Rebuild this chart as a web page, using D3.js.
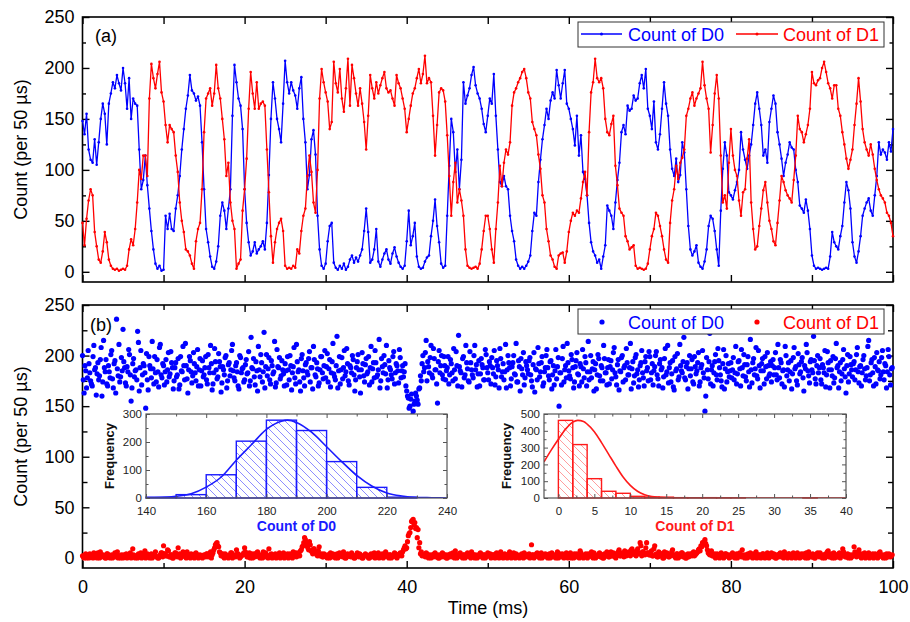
<!DOCTYPE html>
<html>
<head>
<meta charset="utf-8">
<script src="https://cdn.jsdelivr.net/npm/d3@7"></script>
<style>
  body { margin: 0; background: #fff; }
</style>
</head>
<body>
<script>
// ---- panel (a): time traces, one point every 0.25 ms ----
const traceD0 = [
  148,135,155,120,110,107,130,105,127,150,165,155,125,165,175,186,180,193,185,178,
  200,185,160,190,150,170,165,163,120,81,90,114,85,62,40,22,8,3,6,1,
  2,55,42,57,42,40,62,75,94,120,140,160,173,193,178,175,168,172,163,127,
  81,42,29,15,5,3,10,25,55,68,60,42,62,81,153,203,186,170,163,140,
  81,48,29,16,20,29,18,22,25,30,22,48,95,150,186,170,150,140,127,165,
  207,186,175,186,178,173,160,180,191,150,127,81,95,130,139,115,55,22,6,3,
  8,30,45,48,9,4,2,6,3,8,2,5,12,16,9,14,10,16,22,40,
  62,39,9,12,22,42,10,5,12,18,22,12,8,18,24,15,9,5,3,6,
  30,60,26,35,48,15,5,3,4,10,14,16,35,50,71,45,29,8,4,6,
  55,104,150,137,98,120,81,110,186,165,173,180,193,201,183,175,170,160,145,137,
  153,170,165,194,153,120,88,84,94,84,81,55,40,30,12,6,3,5,3,6,
  10,16,40,58,55,88,110,130,144,160,150,168,176,170,198,183,170,185,198,165,
  160,150,140,124,153,114,134,98,91,75,48,29,20,16,9,12,3,15,26,65,
  60,55,42,68,90,107,137,144,135,163,158,160,173,168,170,185,193,180,199,160,
  153,140,167,127,120,135,160,186,165,153,120,101,94,111,88,95,127,117,81,45,
  22,16,20,26,9,5,3,10,22,45,55,52,40,22,6,60,101,127,114,78,
  75,71,80,88,100,137,120,110,101,114,125,144,165,176,160,144,114,120,107,147,
  160,173,165,137,125,111,94,107,115,127,122,120,100,88,65,62,58,71,60,42,
  16,6,3,4,3,2,3,4,3,15,39,29,25,22,35,45,68,88,80,62,
  29,15,9,20,35,55,62,68,72,60,55,75,94,127,115,120,117,110,127,118,140
];
const traceD1 = [
  48,26,52,70,81,75,39,25,12,9,20,39,29,12,6,3,2,3,1,2,
  3,2,6,22,32,26,42,68,100,91,114,114,94,170,204,190,180,194,206,176,
  167,144,127,144,140,137,114,98,68,50,39,22,20,16,8,3,30,42,48,81,
  137,170,175,180,163,175,203,180,170,150,130,94,107,68,50,42,3,8,12,60,
  81,111,160,196,175,160,186,160,165,167,163,120,78,35,9,29,42,48,52,40,
  6,3,4,3,6,4,22,18,40,55,62,94,114,98,68,58,100,170,199,186,
  176,167,140,147,206,185,176,199,170,157,180,209,163,203,190,175,163,180,165,147,
  120,153,193,180,170,186,175,183,190,196,180,176,178,170,163,193,185,180,170,160,
  137,150,163,175,180,190,199,185,194,212,185,190,186,153,114,144,176,180,178,167,
  134,94,55,88,107,68,81,70,55,22,6,4,3,4,5,3,8,22,40,55,
  55,42,22,9,42,68,104,84,107,120,115,127,163,176,180,186,190,196,199,190,
  176,170,147,140,134,115,101,75,68,42,30,16,12,5,3,16,18,19,9,20,
  39,50,58,55,60,58,72,88,98,75,137,176,186,209,190,186,190,180,150,137,
  134,145,153,104,85,62,58,55,35,30,22,24,26,6,3,4,3,2,3,8,
  22,35,42,58,55,45,35,22,12,9,48,70,81,104,91,107,112,120,153,160,
  170,176,163,170,175,180,206,183,170,160,117,144,175,193,170,114,68,75,62,107,
  140,114,100,94,70,55,78,81,111,130,68,42,22,25,45,62,80,88,68,50,
  42,30,26,48,70,94,88,80,75,72,68,90,114,153,140,137,127,135,144,160,
  196,185,183,188,190,200,206,196,185,180,170,183,183,160,153,137,125,111,101,110,
  120,144,165,190,167,140,127,120,114,125,115,101,90,81,75,72,68,58,55,48,35
];
const traceStep = 0.25;

// ---- panel (b): scatter, even bins (0, 0.2, 0.4 ... ms) ----
const scatterD0 = [
  200,163,185,178,192,175,170,210,188,182,176,196,160,215,184,172,190,178,205,168,195,236,180,174,198,
  226,188,170,184,201,155,192,179,186,224,165,205,181,190,148,176,199,187,214,172,183,196,169,211,178,
  190,184,174,203,182,193,167,188,179,197,171,185,209,176,190,163,199,184,180,192,175,206,186,170,195,
  181,199,172,188,210,166,183,194,177,202,189,173,186,198,168,191,180,205,185,175,193,170,200,183,188,
  176,196,183,170,218,187,179,194,165,186,201,174,223,189,180,198,172,190,184,169,206,188,177,195,182,
  192,171,186,200,166,189,178,211,184,174,197,185,170,193,181,204,188,167,196,179,187,173,199,183,190,
  178,202,187,169,194,182,176,219,185,172,198,188,180,207,175,190,183,196,165,188,201,179,186,192,174,
  197,184,171,209,187,178,193,181,216,175,189,200,182,168,195,186,177,204,183,190,173,198,185,179,192,
  165,158,150,162,145,155,160,152,168,175,200,188,215,194,183,210,178,197,186,153,205,190,181,199,176,
  188,172,196,183,207,177,190,220,185,169,199,181,193,175,204,186,178,210,191,182,170,197,188,176,201,
  183,194,172,188,205,179,190,168,197,184,176,211,186,193,170,189,200,181,174,195,165,187,203,178,190,
  182,198,175,191,164,186,208,179,193,170,184,200,188,176,195,181,171,206,189,150,183,197,174,190,212,
  185,177,196,168,189,203,181,192,174,187,199,170,214,184,178,194,186,167,201,180,190,175,197,183,188,
  172,195,186,208,179,191,166,184,200,188,176,193,181,212,187,173,198,182,169,190,205,178,194,185,175,
  199,183,171,189,204,177,192,186,168,197,181,210,188,174,195,166,185,202,179,190,183,218,176,193,187,
  180,196,172,189,185,203,174,191,183,145,198,177,222,186,170,194,181,207,188,175,192,167,200,184,179,
  193,186,176,209,182,195,170,188,201,179,191,184,216,173,197,187,180,205,168,192,185,199,177,190,182,
  174,196,188,181,211,178,193,185,169,200,186,175,195,182,208,189,171,191,184,198,165,187,203,180,194,
  186,219,177,190,183,197,172,188,205,181,193,168,186,199,178,212,190,184,175,196,187,163,201,182,191,
  179,194,186,208,173,190,183,200,176,188,215,181,196,170,189,203,185,177,198,184,192,168,206,181,187
];
const scatterD1 = [
  2,0,4,1,0,3,2,5,1,0,2,6,3,1,0,4,2,0,3,1,5,2,0,1,3,
  0,2,4,1,3,0,9,2,1,0,3,5,1,2,0,4,1,3,0,2,6,1,0,3,5,
  12,4,2,7,1,3,0,5,2,10,4,1,6,2,0,3,1,4,2,0,5,3,1,2,0,
  3,1,4,2,6,3,8,13,15,11,5,3,1,4,2,0,3,5,1,2,8,4,0,2,3,
  10,3,1,5,2,0,4,2,6,1,3,0,2,5,1,9,3,0,2,4,1,3,0,2,5,
  1,3,0,4,2,6,3,1,5,2,8,12,20,14,10,16,7,4,9,5,2,11,3,1,4,
  2,0,3,5,1,2,0,4,1,3,2,6,0,1,3,2,5,1,0,3,2,4,1,0,2,
  3,1,0,4,2,5,1,3,0,2,4,1,6,2,0,3,1,2,4,0,3,5,2,8,12,
  10,22,25,36,38,35,30,28,15,6,3,2,5,1,3,0,2,4,1,3,0,2,5,1,3,
  0,2,4,1,3,7,0,2,5,1,3,0,2,4,1,6,3,0,2,1,4,2,0,3,1,
  5,2,0,3,1,4,2,0,6,1,3,2,0,4,1,2,5,0,3,1,2,4,0,1,3,
  2,0,13,3,1,4,2,0,5,1,3,2,0,4,2,1,3,0,6,2,1,4,0,3,2,
  1,5,2,0,3,4,1,7,2,0,3,1,4,2,6,0,3,1,2,5,1,0,4,2,3,
  1,6,2,4,0,3,8,2,5,1,4,3,6,2,9,5,3,7,4,15,2,6,3,15,5,
  3,7,2,12,4,1,5,3,0,6,2,4,1,3,8,2,0,4,1,3,5,2,0,3,1,
  4,2,6,3,5,8,7,11,14,18,12,5,3,7,2,4,1,3,0,5,2,1,4,3,0,
  2,5,1,3,0,4,2,8,1,3,0,2,5,1,4,2,0,3,1,2,4,0,3,1,2,
  5,1,3,0,2,4,1,3,6,2,0,4,1,3,2,0,5,1,3,2,4,0,1,6,2,
  1,3,0,4,2,5,1,3,0,2,7,1,4,2,0,3,1,5,2,9,3,1,4,2,0,
  3,11,5,2,8,1,4,3,0,2,5,1,3,0,4,2,1,6,3,0,2,4,1,3,2
];
// odd bins (0.1, 0.3, 0.5 ... ms)
const scatterD0Mid = [
  176,190,168,205,183,172,199,186,161,193,180,208,174,188,196,170,184,201,177,192,163,187,211,179,185,
  194,173,189,206,181,168,197,185,176,213,188,171,192,183,202,166,190,178,187,199,174,184,208,181,192,
  171,196,186,179,204,188,175,193,181,167,199,184,190,212,177,186,195,173,203,183,189,170,197,185,179,
  188,176,201,183,192,172,207,186,179,194,164,189,181,200,175,193,186,211,178,190,184,167,198,187,174,
  191,182,204,175,188,197,171,185,209,179,193,184,168,201,187,176,195,182,214,173,189,198,180,186,170,
  185,199,176,190,183,208,172,194,186,165,201,178,191,184,197,174,188,209,181,193,170,186,199,177,205,
  189,174,196,183,212,179,190,168,199,186,177,205,184,192,171,188,200,181,176,194,186,163,203,180,191,
  182,199,188,174,193,205,179,186,168,197,183,191,210,176,188,181,199,172,192,185,206,178,190,184,170,
  160,148,157,141,152,163,156,167,180,192,184,203,175,189,198,181,207,186,172,194,183,200,177,190,185,
  199,181,192,175,186,204,170,189,183,197,178,210,187,174,193,181,200,186,169,195,182,191,176,206,188,
  176,190,198,182,171,195,186,207,179,192,184,168,200,188,177,193,182,212,174,189,197,181,171,194,186,
  195,181,169,203,187,176,192,184,199,173,188,206,180,194,167,190,185,177,198,183,171,209,186,178,193,
  180,201,188,174,195,182,170,189,206,178,193,184,176,200,187,165,192,181,197,175,188,210,183,171,196,
  189,177,203,183,171,196,185,198,174,190,207,181,188,167,194,180,201,186,176,193,183,170,199,188,204,
  176,192,185,200,181,170,196,188,179,207,184,173,193,182,169,199,187,176,211,185,194,178,189,167,200,
  187,174,199,182,193,170,188,205,178,160,186,194,172,190,183,201,176,195,181,169,206,187,174,192,185,
  178,198,183,172,194,187,206,180,191,175,199,169,186,193,181,208,177,190,185,197,172,189,203,180,194,
  190,181,203,176,188,196,172,186,209,180,193,184,167,198,187,175,202,182,194,178,190,211,185,173,196,
  183,195,172,200,188,176,191,183,169,204,186,195,180,173,197,188,168,193,182,206,179,190,174,199,186,
  192,176,201,184,189,170,196,187,180,209,175,193,183,198,172,186,194,181,205,176,190,184,199,171,188
];
const scatterD1Mid = [
  1,3,0,2,4,1,0,3,2,5,0,1,3,2,0,4,1,2,0,3,1,6,2,0,2,
  3,1,0,2,5,1,3,0,2,4,1,0,3,7,2,1,0,4,2,3,1,0,2,5,1,
  4,2,8,1,3,0,2,5,1,3,0,2,4,1,6,2,0,3,1,4,2,0,3,1,2,
  2,4,1,3,0,5,10,14,12,6,2,4,0,3,1,2,5,0,3,1,4,2,1,3,5,
  6,1,3,0,4,2,1,5,3,0,2,6,1,3,0,2,4,1,3,0,2,5,1,3,0,
  2,4,1,3,0,3,5,2,4,7,11,15,18,12,8,13,6,9,5,3,7,2,4,1,3,
  1,3,0,2,4,1,3,0,5,2,1,3,0,4,2,1,3,0,2,5,1,3,0,2,4,
  2,0,3,1,4,0,2,5,1,3,0,2,4,1,3,0,2,5,1,3,2,4,6,10,9,
  16,24,30,37,33,29,20,10,4,2,3,1,4,0,2,3,1,5,2,0,3,1,4,2,0,
  3,1,2,5,0,3,1,4,2,0,3,1,5,2,0,4,1,3,0,2,5,1,3,0,2,
  2,4,1,3,0,5,1,3,2,0,4,1,2,6,0,3,1,4,2,0,3,1,5,2,1,
  4,1,3,0,2,5,1,3,0,2,4,1,3,0,5,2,1,3,0,4,2,1,3,5,0,
  3,0,2,4,1,3,0,5,2,1,4,0,3,2,1,5,0,2,4,1,3,0,2,6,1,
  3,2,5,1,4,6,2,4,3,7,2,5,3,8,4,6,2,9,5,12,6,4,10,5,3,
  5,2,9,3,1,6,2,4,0,3,5,1,2,6,3,1,4,0,2,5,1,3,0,4,2,
  3,5,2,4,6,9,12,15,16,14,8,4,6,2,3,0,4,1,2,3,0,4,2,1,3,
  1,3,0,4,2,5,1,3,0,2,4,1,3,0,2,6,1,3,0,4,2,1,5,0,3,
  2,4,0,3,1,5,2,0,3,1,4,2,0,5,1,3,2,0,4,1,3,5,0,2,1,
  4,0,2,5,1,3,0,2,4,6,1,3,0,5,2,1,4,0,3,6,1,2,0,3,1,
  2,6,1,3,4,0,2,5,1,3,0,2,4,1,3,0,5,2,1,3,0,2,4,1,3
];
const scatterStep = 0.2;

// ---- inset histograms ----
const binsD0 = [140,150,160,170,180,190,200,210,220,230];
const freqD0 = [3,12,83,203,278,241,130,38,3,0];
const fitD0X = [140,145,150,155,160,165,170,175,180,185,187,190,195,200,205,210,215,220,225,230,235,240];
const fitD0Y = [1,2,6,15,39,75,135,190,245,274,278,270,235,183,130,81,43,18,7,2,1,0];

const binsD1 = [0,2,4,6,8,10,12,14,16,18,20,22,24,26,28,30,32,34,36,38];
const freqD1 = [462,318,115,40,28,10,6,5,2,1,2,1,1,0,0,0,0,1,0,0];
const fitD1X = [-2,-1,0,1,2,2.7,3.5,4,5,6,7,8,9,10,11,12,13,14,15,16,40];
const fitD1Y = [215,285,350,410,452,462,455,440,395,330,260,190,125,75,40,20,9,4,1,0,0];

const blue = "#0000ff", red = "#ff0000";
const font = '"Liberation Sans", Arial, Helvetica, sans-serif';

const svg = d3.select("body").append("svg")
  .attr("width", 910).attr("height", 622);

const defs = svg.append("defs");
function hatch(id, color) {
  const p = defs.append("pattern").attr("id", id)
    .attr("patternUnits", "userSpaceOnUse").attr("width", 8).attr("height", 8);
  [[0, 0, 8, 8], [-1, 7, 1, 9], [7, -1, 9, 1]].forEach(l => {
    p.append("line").attr("x1", l[0]).attr("y1", l[1]).attr("x2", l[2]).attr("y2", l[3])
      .attr("stroke", color).attr("stroke-width", 0.8);
  });
}
hatch("hatchBlue", "#7070ff");
hatch("hatchRed", "#ff8585");

const x = d3.scaleLinear().domain([0, 100]).range([82.5, 893]);
const yA = d3.scaleLinear().domain([-10, 250]).range([282, 17]);
const yB = d3.scaleLinear().domain([-10, 250]).range([568, 305]);

// ticks on all four sides pointing inward, labels only left / bottom
function drawFrame(xs, ys, c) {
  const [x0, x1] = xs.range();
  const [y0, y1] = ys.range();
  const g = svg.append("g");

  const axes = [
    [d3.axisBottom(xs).tickValues(c.xMajor).tickSize(-c.major).tickPadding(c.xPad)
      .tickFormat(c.xLabels ? d => d : ""), `translate(0,${y0})`],
    [d3.axisBottom(xs).tickValues(c.xMinor).tickSize(-c.minor).tickFormat(""), `translate(0,${y0})`],
    [d3.axisTop(xs).tickValues(c.xMajor).tickSize(-c.major).tickFormat(""), `translate(0,${y1})`],
    [d3.axisTop(xs).tickValues(c.xMinor).tickSize(-c.minor).tickFormat(""), `translate(0,${y1})`],
    [d3.axisLeft(ys).tickValues(c.yMajor).tickSize(-c.major).tickPadding(c.yPad)
      .tickFormat(d => d), `translate(${x0},0)`],
    [d3.axisLeft(ys).tickValues(c.yMinor).tickSize(-c.minor).tickFormat(""), `translate(${x0},0)`],
    [d3.axisRight(ys).tickValues(c.yMajor).tickSize(-c.major).tickFormat(""), `translate(${x1},0)`],
    [d3.axisRight(ys).tickValues(c.yMinor).tickSize(-c.minor).tickFormat(""), `translate(${x1},0)`]
  ];
  axes.forEach(a => {
    const ag = g.append("g").attr("transform", a[1]).call(a[0]);
    ag.select(".domain").remove();
    ag.selectAll("line").attr("stroke", c.color).attr("stroke-width", c.tickWidth);
    ag.selectAll("text").attr("font-family", font).attr("font-size", c.fontSize)
      .attr("fill", c.textColor);
  });

  g.append("rect").attr("x", x0).attr("y", y1).attr("width", x1 - x0).attr("height", y0 - y1)
    .attr("fill", "none").attr("stroke", c.color).attr("stroke-width", c.frameWidth);
}

const tens = d3.range(0, 101, 10);

// ================= panel (a) =================
drawFrame(x, yA, {
  xMajor: tens, xMinor: [], xLabels: false, xPad: 4,
  yMajor: [0, 50, 100, 150, 200, 250], yMinor: [25, 75, 125, 175, 225], yPad: 8,
  major: 7, minor: 3.5, fontSize: 18, color: "#000", textColor: "#000",
  tickWidth: 1.4, frameWidth: 1.6
});

const traceTime = traceD0.map((d, i) => i * traceStep);
const lineA = d3.line().x((d, i) => x(traceTime[i])).y(d => yA(d));

[[traceD0, blue], [traceD1, red]].forEach(([data, col]) => {
  svg.append("path").datum(data).attr("d", lineA)
    .attr("fill", "none").attr("stroke", col).attr("stroke-width", 1.3)
    .attr("stroke-linejoin", "round");
  svg.append("g").selectAll("circle").data(data).join("circle")
    .attr("cx", (d, i) => x(traceTime[i])).attr("cy", d => yA(d))
    .attr("r", 1.3).attr("fill", col);
});

svg.append("text").attr("x", 95).attr("y", 42).text("(a)")
  .attr("font-family", font).attr("font-size", 18);

// legend (a)
const legA = svg.append("g");
legA.append("rect").attr("x", 578).attr("y", 22).attr("width", 306).attr("height", 25)
  .attr("fill", "#fff").attr("stroke", "#333").attr("stroke-width", 1);
[[581, 622, 628, blue, "Count of D0"], [736, 778, 783, red, "Count of D1"]].forEach(l => {
  legA.append("line").attr("x1", l[0]).attr("x2", l[1]).attr("y1", 34).attr("y2", 34)
    .attr("stroke", l[3]).attr("stroke-width", 1.3);
  legA.append("circle").attr("cx", (l[0] + l[1]) / 2).attr("cy", 34).attr("r", 1.5).attr("fill", l[3]);
  legA.append("text").attr("x", l[2]).attr("y", 41).text(l[4])
    .attr("fill", l[3]).attr("font-family", font).attr("font-size", 18);
});

// ================= panel (b) =================
drawFrame(x, yB, {
  xMajor: d3.range(0, 101, 20), xMinor: d3.range(10, 100, 20), xLabels: true, xPad: 12,
  yMajor: [0, 50, 100, 150, 200, 250], yMinor: [25, 75, 125, 175, 225], yPad: 8,
  major: 7, minor: 5, fontSize: 18, color: "#000", textColor: "#000",
  tickWidth: 1.4, frameWidth: 1.6
});

const evenTime = scatterD0.map((d, i) => i * scatterStep);
const oddTime = scatterD0Mid.map((d, i) => scatterStep / 2 + i * scatterStep);
[[scatterD0, evenTime, blue], [scatterD0Mid, oddTime, blue],
 [scatterD1, evenTime, red], [scatterD1Mid, oddTime, red]].forEach(([data, t, col]) => {
  svg.append("g").selectAll("circle").data(data).join("circle")
    .attr("cx", (d, i) => x(t[i])).attr("cy", d => yB(d))
    .attr("r", 2.6).attr("fill", col);
});

svg.append("text").attr("x", 90).attr("y", 331).text("(b)")
  .attr("font-family", font).attr("font-size", 18);

// legend (b)
const legB = svg.append("g");
legB.append("rect").attr("x", 578).attr("y", 309).attr("width", 306).attr("height", 25)
  .attr("fill", "#fff").attr("stroke", "#333").attr("stroke-width", 1);
[[602, 628, blue, "Count of D0"], [757, 783, red, "Count of D1"]].forEach(l => {
  legB.append("circle").attr("cx", l[0]).attr("cy", 322).attr("r", 2.6).attr("fill", l[2]);
  legB.append("text").attr("x", l[1]).attr("y", 329).text(l[3])
    .attr("fill", l[2]).attr("font-family", font).attr("font-size", 18);
});

// ================= insets =================
function inset(cfg) {
  const xs = d3.scaleLinear().domain(cfg.xDomain).range(cfg.xRange);
  const ys = d3.scaleLinear().domain(cfg.yDomain).range(cfg.yRange);

  svg.append("rect").attr("x", cfg.xRange[0]).attr("y", cfg.yRange[1])
    .attr("width", cfg.xRange[1] - cfg.xRange[0]).attr("height", cfg.yRange[0] - cfg.yRange[1])
    .attr("fill", "#fff");

  const g = svg.append("g");
  const bars = cfg.bins.map((b, i) => ({ b: b, f: cfg.freq[i] })).filter(d => d.f > 0);
  g.selectAll("rect").data(bars).join("rect")
    .attr("x", d => xs(d.b)).attr("width", d => xs(d.b + cfg.binWidth) - xs(d.b))
    .attr("y", d => ys(d.f)).attr("height", d => ys(0) - ys(d.f))
    .attr("fill", `url(#${cfg.hatch})`).attr("stroke", cfg.color).attr("stroke-width", 1.4);

  const clipId = "clip" + cfg.hatch;
  defs.append("clipPath").attr("id", clipId).append("rect")
    .attr("x", cfg.xRange[0]).attr("y", cfg.yRange[1])
    .attr("width", cfg.xRange[1] - cfg.xRange[0]).attr("height", cfg.yRange[0] - cfg.yRange[1]);
  const fit = d3.line().curve(d3.curveMonotoneX)
    .x((d, i) => xs(cfg.fitX[i])).y(d => ys(d));
  g.append("path").datum(cfg.fitY).attr("d", fit).attr("clip-path", `url(#${clipId})`)
    .attr("fill", "none").attr("stroke", cfg.color).attr("stroke-width", 1.6);

  drawFrame(xs, ys, {
    xMajor: cfg.xMajor, xMinor: cfg.xMinor, xLabels: true, xPad: 8.5,
    yMajor: cfg.yMajor, yMinor: cfg.yMinor, yPad: 4,
    major: 4, minor: 2.5, fontSize: 11.5, color: "#555", textColor: "#222",
    tickWidth: 1, frameWidth: 1.2
  });

  svg.append("text").attr("transform", `translate(${cfg.freqX},456) rotate(-90)`)
    .attr("text-anchor", "middle").text("Frequency")
    .attr("font-family", font).attr("font-size", 13).attr("font-weight", "bold").attr("fill", "#111");
  svg.append("text").attr("x", (cfg.xRange[0] + cfg.xRange[1]) / 2).attr("y", 531)
    .attr("text-anchor", "middle").text(cfg.title)
    .attr("font-family", font).attr("font-size", 14).attr("font-weight", "bold").attr("fill", cfg.color);
}

inset({
  xDomain: [140, 240], xRange: [146, 447], yDomain: [0, 300], yRange: [498, 414],
  bins: binsD0, freq: freqD0, binWidth: 10, fitX: fitD0X, fitY: fitD0Y,
  xMajor: d3.range(140, 241, 20), xMinor: d3.range(150, 240, 20),
  yMajor: [0, 100, 200, 300], yMinor: [50, 150, 250],
  hatch: "hatchBlue", color: "#1a1aff", title: "Count of D0", freqX: 114
});

inset({
  xDomain: [-2, 40], xRange: [544, 846], yDomain: [0, 500], yRange: [498, 414],
  bins: binsD1, freq: freqD1, binWidth: 2, fitX: fitD1X, fitY: fitD1Y,
  xMajor: d3.range(0, 41, 5), xMinor: d3.range(2.5, 40, 5),
  yMajor: [0, 100, 200, 300, 400, 500], yMinor: [50, 150, 250, 350, 450],
  hatch: "hatchRed", color: "#ff1a1a", title: "Count of D1", freqX: 511
});

// ================= axis titles =================
[149.5, 436.5].forEach(cy => {
  svg.append("text").attr("transform", `translate(27,${cy}) rotate(-90)`)
    .attr("text-anchor", "middle").text("Count (per 50 µs)")
    .attr("font-family", font).attr("font-size", 18);
});
svg.append("text").attr("x", 488).attr("y", 614).attr("text-anchor", "middle")
  .text("Time (ms)").attr("font-family", font).attr("font-size", 18);
</script>
</body>
</html>
